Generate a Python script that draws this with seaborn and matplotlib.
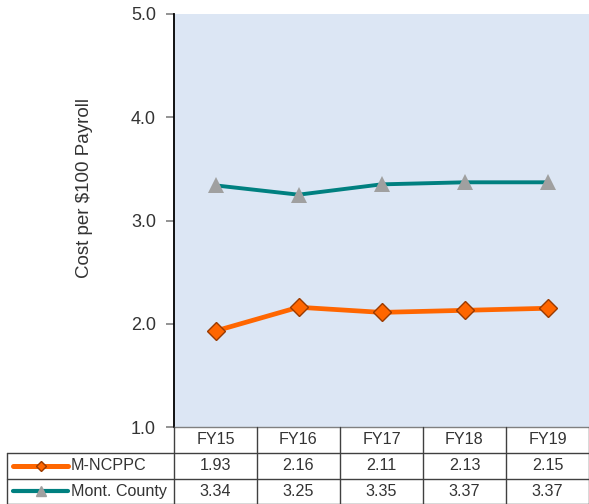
import matplotlib
matplotlib.use("Agg")
import matplotlib.pyplot as plt
import matplotlib.transforms as mtransforms
from matplotlib.lines import Line2D
import pandas as pd
import seaborn as sns

# Fiscal years and cost per $100 of payroll
years = ["FY15", "FY16", "FY17", "FY18", "FY19"]
mncppc = [1.93, 2.16, 2.11, 2.13, 2.15]
county = [3.34, 3.25, 3.35, 3.37, 3.37]
series_names = ["M-NCPPC", "Mont. County"]
y_ticks = [1.0, 2.0, 3.0, 4.0, 5.0]

ORANGE = "#FF6600"
ORANGE_EDGE = "#9A3A00"
TEAL = "#008080"
GREY_MK = "#A0A0A0"
BG = "#DCE6F4"
TXT = "#333333"

df = pd.DataFrame({
    "year": years * 2,
    "pos": list(range(len(years))) * 2,
    "value": mncppc + county,
    "series": [series_names[0]] * len(years) + [series_names[1]] * len(years),
})

sns.set_style("white")
plt.rcParams["font.family"] = ["Liberation Sans", "DejaVu Sans"]

W, H = 589, 504
fig = plt.figure(figsize=(W / 100, H / 100), dpi=100)
ax = fig.add_axes([174 / W, 77 / H, 415 / W, 413 / H])
ax.set_facecolor(BG)

sns.lineplot(
    data=df, x="pos", y="value", hue="series", style="series",
    palette={series_names[0]: ORANGE, series_names[1]: TEAL},
    markers={series_names[0]: "D", series_names[1]: "^"},
    dashes=False, legend=False, ax=ax, linewidth=3.4,
)
# marker styling per series
for line, name in zip(ax.lines, series_names):
    if name == series_names[0]:
        line.set_markersize(9.5)
        line.set_markerfacecolor(ORANGE)
        line.set_markeredgecolor(ORANGE_EDGE)
        line.set_markeredgewidth(1.0)
    else:
        line.set_linewidth(2.8)
        line.set_markersize(11)
        line.set_markerfacecolor(GREY_MK)
        line.set_markeredgecolor(GREY_MK)
        line.set_markeredgewidth(0)

ax.set_xlim(-0.5, len(years) - 0.5)
ax.set_ylim(1.0, 5.0)
ax.set_yticks(y_ticks)
ax.set_yticklabels([f"{t:.1f}" for t in y_ticks], fontsize=13, color=TXT)
ax.set_xticks([])
ax.set_xlabel("")
ax.set_ylabel("Cost per $100 Payroll", fontsize=13.5, color=TXT, labelpad=27)
ax.yaxis.label.set_y(0.578)
ax.tick_params(axis="y", direction="out", length=6, width=1.2, color="#808080", pad=7, left=True)
for s in ["top", "right"]:
    ax.spines[s].set_visible(False)
ax.spines["left"].set_color("black")
ax.spines["left"].set_linewidth(1.3)
ax.spines["bottom"].set_color("#808080")
ax.spines["bottom"].set_linewidth(1.0)

# ---- data table beneath the plot ----
def fy(y):
    return 1 - y / H

def fx(x):
    return x / W

tcol = "#404040"
lw = 1.0
fs_tab = 11.6
row_top, row1, row2, row_bot = 427, 453, 479, 503.5
left_edge, right_edge = 7, 588.5

# horizontal rules
for y in (row1, row2, row_bot):
    fig.add_artist(Line2D([fx(left_edge), fx(right_edge)], [fy(y), fy(y)],
                          transform=fig.transFigure, color=tcol, lw=lw))
# outer verticals
fig.add_artist(Line2D([fx(left_edge)] * 2, [fy(row1), fy(row_bot)],
                      transform=fig.transFigure, color=tcol, lw=lw))
fig.add_artist(Line2D([fx(right_edge)] * 2, [fy(row_top), fy(row_bot)],
                      transform=fig.transFigure, color=tcol, lw=lw))
# column separators at category boundaries
blend = mtransforms.blended_transform_factory(ax.transData, fig.transFigure)
for i in range(len(years)):
    b = i - 0.5
    fig.add_artist(Line2D([b, b], [fy(row_top), fy(row_bot)],
                          transform=blend, color=tcol, lw=lw))

# header and value cells
for i, yr in enumerate(years):
    fig.text(i, fy((row_top + row1) / 2), yr, transform=blend, ha="center",
             va="center", fontsize=fs_tab, color=TXT)
    fig.text(i, fy((row1 + row2) / 2), f"{mncppc[i]:.2f}", transform=blend,
             ha="center", va="center", fontsize=fs_tab, color=TXT)
    fig.text(i, fy((row2 + row_bot) / 2), f"{county[i]:.2f}", transform=blend,
             ha="center", va="center", fontsize=fs_tab, color=TXT)

# legend keys inside the row headers
keys = [
    (series_names[0], ORANGE, "D", ORANGE, ORANGE_EDGE, 5, (row1 + row2) / 2, 3.6),
    (series_names[1], TEAL, "^", GREY_MK, GREY_MK, 7, (row2 + row_bot) / 2, 3.0),
]
for name, col, mk, mfc, mec, ms, yc, klw in keys:
    fig.add_artist(Line2D([fx(13), fx(68)], [fy(yc), fy(yc)], transform=fig.transFigure,
                          color=col, lw=klw, solid_capstyle="round"))
    fig.add_artist(Line2D([fx(41)], [fy(yc)], transform=fig.transFigure, marker=mk,
                          markersize=ms, markerfacecolor=mfc, markeredgecolor=mec,
                          markeredgewidth=1.0, linestyle="none"))
    fig.text(fx(71), fy(yc), name, ha="left", va="center", fontsize=fs_tab, color=TXT)

fig.savefig("out.png", dpi=100, facecolor="white")
